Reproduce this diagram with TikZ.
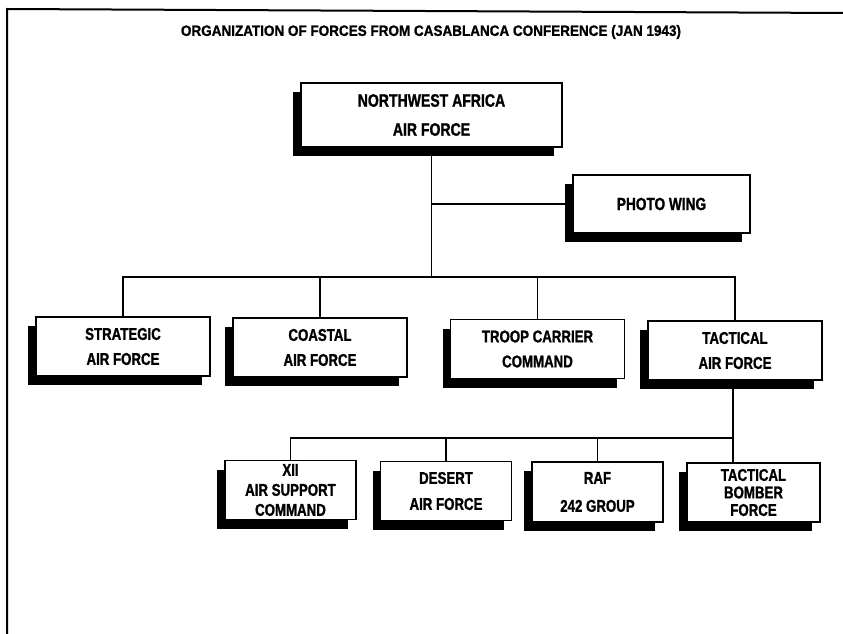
\documentclass[tikz,border=0pt]{standalone}
\usepackage{fontspec}
\newfontfamily\orgfont{Liberation Sans}[FakeStretch=0.78, BoldFeatures={FakeBold=1.2}]
\newfontfamily\headfont{Liberation Sans}[FakeStretch=0.9, BoldFeatures={FakeBold=1.2}]
\usetikzlibrary{shadows}
\newcommand\orgtext[2]{\orgfont\bfseries\fontsize{#1}{#2}\selectfont}
\tikzset{
  unit/.style={draw, line width=1.3pt, fill=white, inner sep=0pt, align=center,
    drop shadow={shadow xshift=-8pt, shadow yshift=-9pt, fill=black, opacity=1}},
  bigunit/.style={unit, minimum width=174pt, minimum height=59pt},
  smallunit/.style={unit, minimum width=131pt, minimum height=59pt},
  link/.style={line width=1.2pt}
}
\begin{document}
\begin{tikzpicture}[x=1pt, y=-1pt]
  \useasboundingbox (0,0) rectangle (843,634);
  \draw [line width=2pt] (7,634) -- (7,9) -- (843,13);
  \node (title) at (431,32) {\headfont\bfseries\fontsize{15}{18}\selectfont ORGANIZATION OF FORCES FROM CASABLANCA CONFERENCE (JAN 1943)};

  \node [unit, minimum width=261pt, minimum height=64pt,
    font=\orgtext{18}{29}] (nwaaf) at (431.5,115) {NORTHWEST AFRICA\\AIR FORCE};
  \node [unit, minimum width=177pt, minimum height=58pt,
    font=\orgtext{17.5}{24}] (photo) at (661.5,204) {PHOTO WING};

  \node [bigunit, font=\orgtext{17}{25}] (strat) at (123,346.5) {STRATEGIC\\AIR FORCE};
  \node [bigunit, font=\orgtext{17}{25}] (coast) at (320,347.5) {COASTAL\\AIR FORCE};
  \node [bigunit, font=\orgtext{17}{25}] (troop) at (537.5,349) {TROOP CARRIER\\COMMAND};
  \node [bigunit, font=\orgtext{17}{25}] (tacaf) at (735,350.5) {TACTICAL\\AIR FORCE};

  \node [smallunit, font=\orgtext{17}{20}] (xii) at (290.5,490) {XII\\AIR SUPPORT\\COMMAND};
  \node [smallunit, font=\orgtext{17}{26}] (desert) at (446,491) {DESERT\\AIR FORCE};
  \node [smallunit, minimum height=60pt, font=\orgtext{17}{28}] (raf) at (597.5,492) {RAF\\242 GROUP};
  \node [smallunit, minimum width=133pt, font=\orgtext{17}{17.5}] (tacbf) at (753.5,492.5) {TACTICAL\\BOMBER\\FORCE};

  \coordinate (bar1) at (0,277);
  \coordinate (bar2) at (0,438);
  \draw [link] (nwaaf.south) -- (nwaaf.south |- bar1);
  \draw [link] (nwaaf.south |- photo.west) -- (photo.west);
  \draw [link] (strat.north) |- (tacaf.north |- bar1) -- (tacaf.north);
  \foreach \n in {coast,troop}
    \draw [link] (\n.north) -- (\n.north |- bar1);
  \draw [link] ([xshift=-2pt]tacaf.south) -- ([xshift=-2pt]tacaf.south |- tacbf.north);
  \draw [link] (xii.north) |- ([xshift=-2pt]tacaf.south |- bar2);
  \foreach \n in {desert,raf}
    \draw [link] (\n.north) -- (\n.north |- bar2);
\end{tikzpicture}
\end{document}
